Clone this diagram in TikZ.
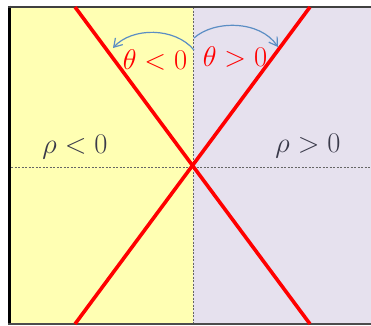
\documentclass[tikz,border=0pt]{standalone}
\usetikzlibrary{arrows.meta}
\definecolor{leftfill}{HTML}{FFFFB3}
\definecolor{rightfill}{HTML}{E6E1EE}
\definecolor{arcblue}{HTML}{5B8EC4}
\definecolor{labeldark}{HTML}{3A3A4A}
\tikzset{
  redline/.style={draw=red, line width=3.6bp},
  guide/.style={draw=gray!80!black, line width=0.6bp, dash pattern=on 2bp off 1.5bp},
  arcarrow/.style={draw=arcblue, line width=1.2bp, -{Straight Barb[length=8bp,width=10bp]}},
  bigtext/.style={inner sep=0pt, font=\fontsize{24.88}{30}\selectfont, scale=1.15},
}
\begin{document}
\begin{tikzpicture}[x=1bp,y=-1bp]
\useasboundingbox (0,0) rectangle (371,326);
\clip (0,0) rectangle (371,326);
% fills
\fill[leftfill] (10,7) rectangle (193,324);
\fill[rightfill] (193,7) rectangle (380,324);
% guides
\coordinate (vt) at (193,7);
\coordinate (vb) at (193,323);
\coordinate (hl) at (11,167);
\coordinate (hr) at (371,167);
\draw[guide] (vt) -- (vb);
\draw[guide] (hl) -- (hr);
% frame
\draw[black, line width=3bp] (9.5,5.5) -- (9.5,325);
\draw[black!75, line width=2bp] (8,7) -- (380,7);
\draw[black!70, line width=2bp] (8,324) -- (380,324);
% red lines
\coordinate (tl) at (75,7);
\coordinate (tr) at (310,7);
\coordinate (bl) at (75,324);
\coordinate (br) at (310,324);
\draw[redline] (tl) -- (br);
\draw[redline] (tr) -- (bl);
% arcs
\coordinate (la) at (194,50);
\coordinate (lb) at (113,48);
\coordinate (ra) at (194,38);
\coordinate (rb) at (278,47);
\draw[arcarrow] (la) .. controls (175,27) and (132,27) .. (lb);
\draw[arcarrow] (ra) .. controls (214,20) and (260,20) .. (rb);
% labels
\node[bigtext, text=red] (tneg) at (155,60) {$\theta<0$};
\node[bigtext, text=red] (tpos) at (235,57) {$\theta>0$};
\node[bigtext, text=labeldark] (rneg) at (75,147) {$\rho<0$};
\node[bigtext, text=labeldark] (rpos) at (308,146) {$\rho>0$};
\end{tikzpicture}
\end{document}
